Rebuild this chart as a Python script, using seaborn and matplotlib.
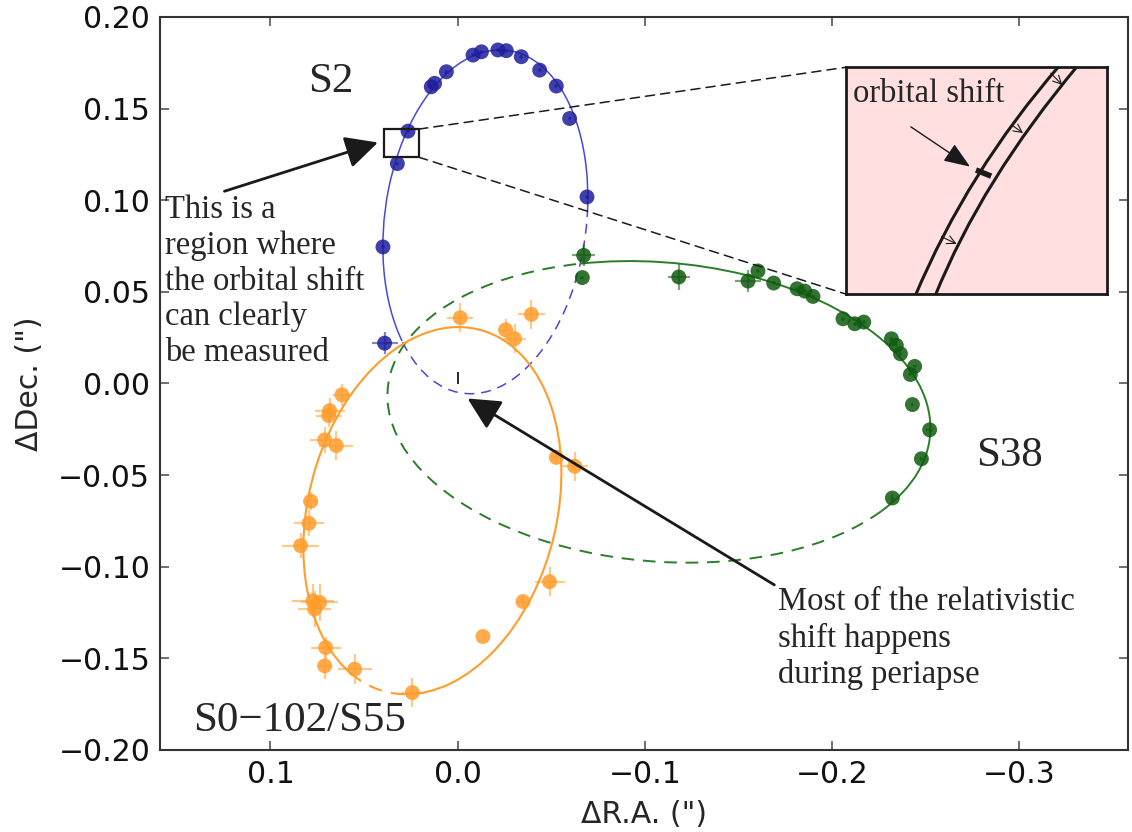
"""
Astrometric orbits of S2, S38 and S0-102/S55 around Sgr A*,
with a schematic inset of the orbital shift.
"""

import numpy as np
import pandas as pd
import matplotlib
matplotlib.use("Agg")
import matplotlib.pyplot as plt
from matplotlib.patches import Arc, Rectangle, PathPatch, ConnectionPatch
from matplotlib.path import Path
from matplotlib.ticker import FuncFormatter
import seaborn as sns

# ---- measured positions (arcsec) ----
s2_ra = [0.0390, 0.0399, 0.0322, 0.0265, 0.0141, 0.0123, 0.0060, -0.0082,
         -0.0127, -0.0215, -0.0260, -0.0340, -0.0438, -0.0527, -0.0598, -0.0691]
s2_dec = [0.0220, 0.0745, 0.1200, 0.1377, 0.1619, 0.1638, 0.1701, 0.1792,
          0.1810, 0.1820, 0.1816, 0.1783, 0.1710, 0.1623, 0.1446, 0.1018]
s2_ra_err = [0.007, 0.001, 0.001, 0.001, 0.002, 0.001, 0.001, 0.001,
             0.001, 0.001, 0.001, 0.001, 0.001, 0.001, 0.001, 0.001]
s2_dec_err = [0.006, 0.001, 0.001, 0.001, 0.001, 0.001, 0.001, 0.001,
              0.001, 0.001, 0.001, 0.001, 0.001, 0.001, 0.001, 0.001]

s38_ra = [-0.0673, -0.0666, -0.1181, -0.1551, -0.1604, -0.1688, -0.1813,
          -0.1854, -0.1898, -0.2058, -0.2121, -0.2169, -0.2317, -0.2343,
          -0.2365, -0.2441, -0.2418, -0.2429, -0.2521, -0.2477, -0.2322]
s38_dec = [0.0699, 0.0578, 0.0581, 0.0559, 0.0614, 0.0548, 0.0517, 0.0504,
           0.0475, 0.0353, 0.0326, 0.0335, 0.0244, 0.0208, 0.0162, 0.0093,
           0.0049, -0.0115, -0.0253, -0.0411, -0.0625]
s38_ra_err = [0.006, 0.001, 0.006, 0.007, 0.001, 0.001, 0.001, 0.001, 0.001,
              0.001, 0.001, 0.001, 0.001, 0.001, 0.001, 0.001, 0.001, 0.001,
              0.002, 0.001, 0.001]
s38_dec_err = [0.006, 0.001, 0.007, 0.006, 0.001, 0.001, 0.001, 0.001, 0.001,
               0.001, 0.001, 0.001, 0.001, 0.001, 0.001, 0.001, 0.001, 0.001,
               0.001, 0.001, 0.002]

s55_ra = [-0.0014, -0.0394, -0.0256, -0.0304, 0.0618, 0.0684, 0.0689, 0.0710,
          0.0648, -0.0527, -0.0625, 0.0785, 0.0794, 0.0839, 0.0773, 0.0737,
          0.0764, -0.0491, -0.0349, -0.0135, 0.0705, 0.0710, 0.0550, 0.0242]
s55_dec = [0.0359, 0.0377, 0.0293, 0.0244, -0.0062, -0.0148, -0.0175, -0.0308,
           -0.0339, -0.0403, -0.0452, -0.0643, -0.0763, -0.0885, -0.1186,
           -0.1195, -0.1231, -0.1082, -0.1190, -0.1381, -0.1441, -0.1541,
           -0.1559, -0.1687]
s55_ra_err = [0.007, 0.007, 0.004, 0.006, 0.005, 0.008, 0.007, 0.008, 0.009,
              0.003, 0.007, 0.004, 0.008, 0.010, 0.011, 0.010, 0.009, 0.008,
              0.003, 0.0, 0.008, 0.004, 0.009, 0.006]
s55_dec_err = [0.008, 0.008, 0.006, 0.008, 0.006, 0.007, 0.006, 0.007, 0.008,
               0.004, 0.008, 0.005, 0.007, 0.007, 0.009, 0.010, 0.010, 0.008,
               0.003, 0.0, 0.006, 0.007, 0.008, 0.008]

# ---- fitted orbits drawn as ellipses (centre, full axes, tilt, solid arc) ----
orbit_star = ["S2", "S38", "S0-102/S55"]
orbit_ra0 = [-0.0148, -0.1075, 0.0135]
orbit_dec0 = [0.0882, -0.0155, -0.0694]
orbit_width = [0.1078, 0.2908, 0.1327]
orbit_height = [0.1886, 0.1632, 0.2038]
orbit_angle = [7.1, 5.1, 13.9]
orbit_solid_from = [-62.7, 57.5, -79.0]
orbit_solid_to = [164.5, 199.5, 264.6]

sgra_ra = [0.0]
sgra_dec = [0.0031]

# zoom box on the S2 orbit (RA range, Dec range)
box_ra = [0.0208, 0.0395]
box_dec = [0.1235, 0.1388]

# schematic inset: two orbit passes as quadratic Bezier curves (axes units)
inner_curve_u = [0.265, 0.465, 0.819]
inner_curve_v = [-0.01, 0.540, 1.01]
outer_curve_u = [0.341, 0.520, 0.889]
outer_curve_v = [-0.01, 0.502, 1.01]
shift_arrow_u0 = [0.784, 0.634, 0.366]
shift_arrow_v0 = [0.974, 0.746, 0.253]
shift_arrow_u1 = [0.828, 0.678, 0.424]
shift_arrow_v1 = [0.922, 0.710, 0.221]
shift_bar_u = [0.498, 0.556]
shift_bar_v = [0.547, 0.520]

dot_colours = {"S2": "#1e1e9e", "S38": "#0f5a0f", "S0-102/S55": "#ff9d2c"}
line_colours = {"S2": "#4848d8", "S38": "#2b7d2b", "S0-102/S55": "#ff9d2c"}
line_widths = {"S2": 1.1, "S38": 1.4, "S0-102/S55": 1.5}

stars = pd.concat([
    pd.DataFrame({"ra": s2_ra, "dec": s2_dec, "ra_err": s2_ra_err,
                  "dec_err": s2_dec_err, "star": "S2"}),
    pd.DataFrame({"ra": s38_ra, "dec": s38_dec, "ra_err": s38_ra_err,
                  "dec_err": s38_dec_err, "star": "S38"}),
    pd.DataFrame({"ra": s55_ra, "dec": s55_dec, "ra_err": s55_ra_err,
                  "dec_err": s55_dec_err, "star": "S0-102/S55"}),
], ignore_index=True)


def minus_fmt(decimals):
    def fmt(v, pos):
        if abs(v) < 1e-9:
            v = 0.0
        return f"{v:.{decimals}f}".replace("-", "\u2212")
    return FuncFormatter(fmt)


sns.set_theme(style="ticks")
plt.rcParams["font.family"] = ["DejaVu Sans"]
serif = ["Liberation Serif", "DejaVu Serif"]

fig = plt.figure(figsize=(11.32, 8.32), dpi=100)
ax = fig.add_axes([0.1413, 0.0986, 0.8551, 0.8810])

# orbits
for i, star in enumerate(orbit_star):
    common = dict(xy=(orbit_ra0[i], orbit_dec0[i]), width=orbit_width[i],
                  height=orbit_height[i], angle=orbit_angle[i],
                  color=line_colours[star], lw=line_widths[star])
    ax.add_patch(Arc(theta1=orbit_solid_from[i], theta2=orbit_solid_to[i],
                     zorder=2, **common))
    ax.add_patch(Arc(theta1=orbit_solid_to[i], theta2=orbit_solid_from[i] + 360,
                     linestyle=(0, (6.5, 4.5)), zorder=2, **common))

# error bars then the positions
for star, grp in stars.groupby("star"):
    ax.errorbar(grp["ra"], grp["dec"], xerr=grp["ra_err"], yerr=grp["dec_err"],
                fmt="none", ecolor=dot_colours[star], elinewidth=1.6,
                alpha=0.55, capsize=0, zorder=3)
sns.scatterplot(data=stars, x="ra", y="dec", hue="star", palette=dot_colours,
                s=115, alpha=0.85, edgecolor="none", legend=False, ax=ax,
                zorder=4)

ax.plot(sgra_ra, sgra_dec, marker="|", ms=8.5, mew=1.3, color="k",
        linestyle="none", zorder=5)

ax.set_xlim(0.159, -0.358)
ax.set_ylim(-0.20, 0.20)
ax.set_xticks([0.1, 0.0, -0.1, -0.2, -0.3])
ax.set_yticks(np.arange(-0.20, 0.201, 0.05))
ax.xaxis.set_major_formatter(minus_fmt(1))
ax.yaxis.set_major_formatter(minus_fmt(2))
ax.tick_params(direction="in", length=6.5, width=1.2, top=True, right=True,
               labelsize=21.5, pad=7, color="#555555", labelcolor="#111111")
for sp in ax.spines.values():
    sp.set_color("#333333")
    sp.set_linewidth(1.5)
ax.set_xlabel("\u0394R.A. (\")", fontsize=21.5, labelpad=8)
ax.set_ylabel("\u0394Dec. (\")", fontsize=21.5, labelpad=10)

# star names
ax.text(0.0678, 0.1645, "S2", family=serif, fontsize=31, ha="center",
        va="center")
ax.text(-0.2949, -0.0393, "S38", family=serif, fontsize=31, ha="center",
        va="center")
ax.text(0.1415, -0.1840, "S0\u2212102/S55", family=serif, fontsize=31,
        ha="left", va="center")

# zoom box and its callout
ax.add_patch(Rectangle((box_ra[0], box_dec[0]), box_ra[1] - box_ra[0],
                       box_dec[1] - box_dec[0], fill=False, ec="k", lw=1.6,
                       zorder=6))
ax.annotate("This is a\nregion where\nthe orbital shift\ncan clearly\nbe measured",
            xy=(0.0426, 0.1315), xytext=(0.1565, 0.1030),
            family=serif, fontsize=23.5, ha="left", va="top", linespacing=1.22,
            arrowprops=dict(arrowstyle="-|>,head_length=0.9,head_width=0.45",
                            mutation_scale=22, lw=2, color="k",
                            shrinkA=0, shrinkB=0,
                            relpos=(0.3, 1.02)),
            zorder=6)

ax.annotate("Most of the relativistic\nshift happens\nduring periapse",
            xy=(-0.0053, -0.0082), xytext=(-0.1709, -0.1110),
            family=serif, fontsize=23.5, ha="left", va="top", linespacing=1.22,
            arrowprops=dict(arrowstyle="-|>,head_length=0.9,head_width=0.45",
                            mutation_scale=22, lw=2, color="k",
                            shrinkA=0, shrinkB=0, relpos=(0.0, 1.0)),
            zorder=6)

# inset sketch
inset = fig.add_axes([0.7471, 0.6466, 0.2311, 0.2725])
inset.set_facecolor("#ffdfdf")
inset.set_xlim(0, 1)
inset.set_ylim(0, 1)
inset.set_xticks([])
inset.set_yticks([])
for sp in inset.spines.values():
    sp.set_color("k")
    sp.set_linewidth(2)
for cu, cv in [(inner_curve_u, inner_curve_v), (outer_curve_u, outer_curve_v)]:
    path = Path(list(zip(cu, cv)), [Path.MOVETO, Path.CURVE3, Path.CURVE3])
    inset.add_patch(PathPatch(path, fill=False, ec="k", lw=2.2))
for u0, v0, u1, v1 in zip(shift_arrow_u0, shift_arrow_v0,
                          shift_arrow_u1, shift_arrow_v1):
    inset.annotate("", xy=(u1, v1), xytext=(u0, v0),
                   arrowprops=dict(arrowstyle="->,head_length=0.5,head_width=0.25",
                                   lw=0.8, color="k", shrinkA=0, shrinkB=0))
inset.plot(shift_bar_u, shift_bar_v, color="k", lw=4, solid_capstyle="butt")
inset.annotate("orbital shift", xy=(0.475, 0.562), xytext=(0.029, 0.849),
               family=serif, fontsize=23.5, ha="left", va="baseline",
               arrowprops=dict(arrowstyle="-|>,head_length=0.9,head_width=0.35",
                               mutation_scale=18, lw=1, color="k",
                               shrinkA=0, shrinkB=0, relpos=(0.38, -0.6)))

# dashed guides from the zoom box to the inset
for box_corner, inset_corner in [((box_ra[0], box_dec[1]), (0, 1)),
                                 ((box_ra[0], box_dec[0]), (0, 0))]:
    con = ConnectionPatch(xyA=box_corner, coordsA=ax.transData,
                          xyB=inset_corner, coordsB=inset.transAxes,
                          color="k", lw=1.1, linestyle=(0, (6, 4)))
    fig.add_artist(con)

fig.savefig("out.png", dpi=100)
